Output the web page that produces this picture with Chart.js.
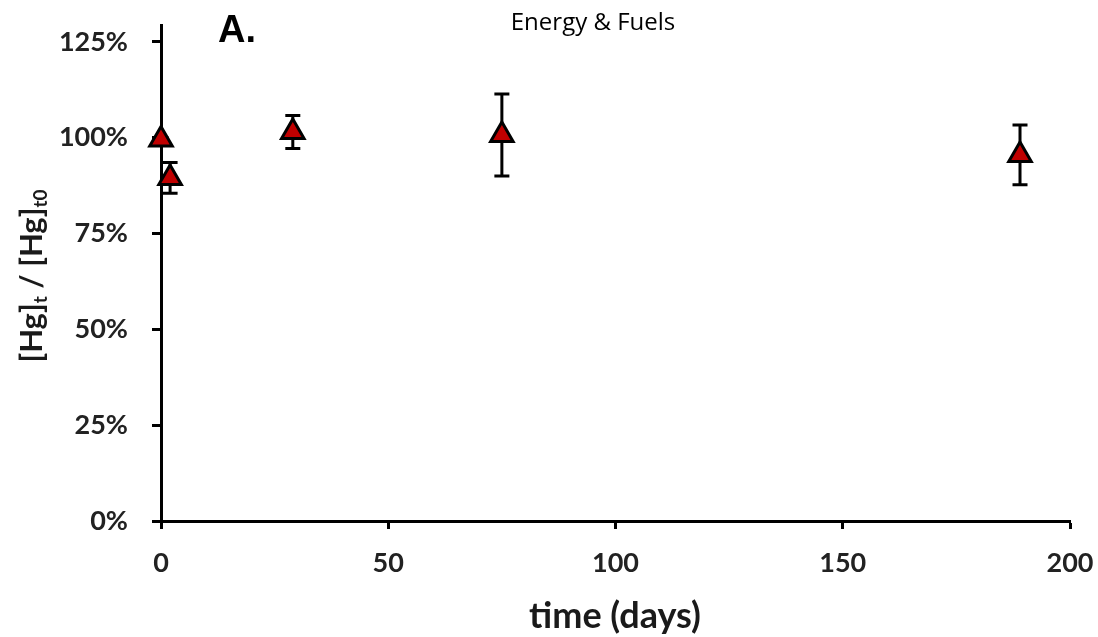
<!DOCTYPE html>
<html>
<head>
<meta charset="utf-8">
<script src="https://cdn.jsdelivr.net/npm/chart.js@4/dist/chart.umd.min.js"></script>
<style>
html,body{margin:0;padding:0;background:#fff;}
#wrap{width:1098px;height:637px;position:relative;}
</style>
</head>
<body>
<div id="wrap"><canvas id="c" width="1098" height="637"></canvas></div>
<script>
const times = [0, 2, 29, 75, 189];
const ratioPct = [99.5, 89.5, 101.5, 100.7, 95.5];
const errPct = [0.5, 4, 4.3, 10.7, 7.8];
const yTicks = [0, 25, 50, 75, 100, 125];
const xTicks = [0, 50, 100, 150, 200];
const chartTitle = 'Energy & Fuels';
const panelLabel = 'A.';
const xTitle = 'time (days)';

const errorBars = {
  id: 'errorBars',
  beforeDatasetsDraw(chart) {
    const ctx = chart.ctx, xs = chart.scales.x, ys = chart.scales.y;
    ctx.save();
    ctx.strokeStyle = '#000';
    ctx.lineWidth = 3;
    times.forEach((t, i) => {
      const px = xs.getPixelForValue(t);
      const top = ys.getPixelForValue(ratioPct[i] + errPct[i]);
      const bot = ys.getPixelForValue(ratioPct[i] - errPct[i]);
      ctx.beginPath();
      ctx.moveTo(px, top); ctx.lineTo(px, bot);
      ctx.moveTo(px - 7.5, top); ctx.lineTo(px + 7.5, top);
      ctx.moveTo(px - 7.5, bot); ctx.lineTo(px + 7.5, bot);
      ctx.stroke();
    });
    ctx.restore();
  }
};

const texts = {
  id: 'texts',
  afterDraw(chart) {
    const ctx = chart.ctx;
    ctx.save();
    ctx.fillStyle = '#000';
    ctx.textBaseline = 'alphabetic';
    ctx.textAlign = 'center';
    ctx.font = '24px "Open Sans"';
    ctx.fillText(chartTitle, 593, 30);
    ctx.textAlign = 'left';
    ctx.font = 'bold 38px "Liberation Sans"';
    ctx.fillText(panelLabel, 218, 42);
    ctx.textAlign = 'center';
    ctx.fillStyle = '#1a1a1a';
    ctx.font = 'bold 36px Lato';
    ctx.fillText(xTitle, 615, 628);
    // y title with subscripts
    ctx.translate(42, 276);
    ctx.rotate(-Math.PI / 2);
    const parts = [['[Hg]', 0], ['t', 1], [' / [Hg]', 0], ['t0', 1]];
    const big = 'bold 31px Lato', small = 'bold 19px Lato';
    let w = 0;
    parts.forEach(p => { ctx.font = p[1] ? small : big; w += ctx.measureText(p[0]).width; });
    let x = -w / 2;
    ctx.textAlign = 'left';
    parts.forEach(p => {
      ctx.font = p[1] ? small : big;
      ctx.fillText(p[0], x, p[1] ? 5 : 0);
      x += ctx.measureText(p[0]).width;
    });
    ctx.restore();
  }
};

new Chart(document.getElementById('c'), {
  type: 'scatter',
  data: {
    datasets: [{
      data: times.map((t, i) => ({x: t, y: ratioPct[i]})),
      pointStyle: 'triangle',
      pointRadius: 13,
      pointHoverRadius: 13,
      backgroundColor: '#c00000',
      borderColor: '#000',
      pointBorderWidth: 3,
      showLine: false,
      clip: false
    }]
  },
  options: {
    responsive: false,
    animation: false,
    layout: {padding: {left: 0, right: 28, top: 25, bottom: 0}},
    plugins: {legend: {display: false}, tooltip: {enabled: false}, title: {display: false}},
    scales: {
      x: {
        type: 'linear', min: 0, max: 200,
        afterBuildTicks(s) { s.ticks = xTicks.map(v => ({value: v})); },
        afterFit(s) { s.height = 637 - 521; s.paddingLeft = 0; s.paddingRight = 0; },
        grid: {drawOnChartArea: false, drawTicks: true, tickLength: 8, tickWidth: 3, tickColor: '#000'},
        border: {display: true, color: '#000', width: 3},
        ticks: {color: '#222', font: {family: 'Lato', weight: 'bold', size: 27}, padding: 18, maxRotation: 0}
      },
      y: {
        type: 'linear', min: 0, max: 129.4,
        afterBuildTicks(s) { s.ticks = yTicks.map(v => ({value: v})); },
        afterFit(s) { s.width = 161; s.paddingTop = 0; s.paddingBottom = 0; },
        grid: {drawOnChartArea: false, drawTicks: true, tickLength: 9, tickWidth: 3, tickColor: '#000'},
        border: {display: true, color: '#000', width: 3},
        ticks: {color: '#222', font: {family: 'Lato', weight: 'bold', size: 27}, padding: 24,
          callback: v => v + '%'}
      }
    }
  },
  plugins: [errorBars, texts]
});
</script>
</body>
</html>
